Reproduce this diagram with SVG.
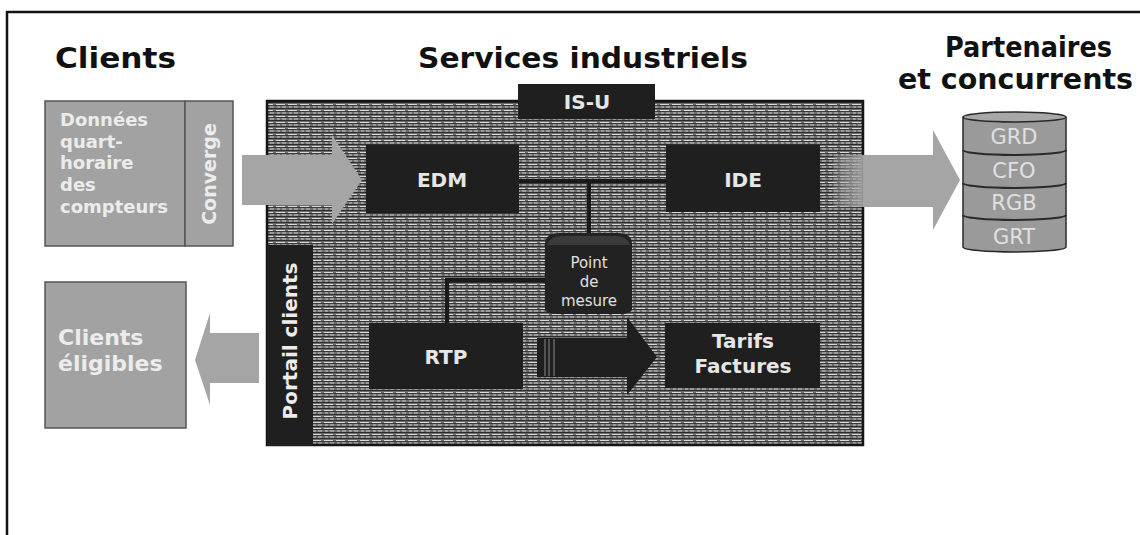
<svg xmlns="http://www.w3.org/2000/svg" width="1140" height="535" viewBox="0 0 1140 535">
<style>
.title{font-family:"DejaVu Sans","Liberation Sans",sans-serif;font-weight:bold;font-size:29px;fill:#111}
.dark{fill:#1f1f1f}
.lbl{font-family:"DejaVu Sans","Liberation Sans",sans-serif;font-weight:bold;font-size:20px;fill:#e6e6e6;text-anchor:middle}
.gray{fill:#a2a2a2;stroke:#555;stroke-width:1.5}
.wt{font-family:"DejaVu Sans","Liberation Sans",sans-serif;font-weight:bold;fill:#ececec}
.reg{font-family:"DejaVu Sans","Liberation Sans",sans-serif;fill:#e0e0e0;text-anchor:middle}
.line{stroke:#1a1a1a;stroke-width:4;fill:none}
.arrowg{fill:#a5a5a5}
</style>
<defs>
<pattern id="tex" x="0" y="0" width="12" height="6" patternUnits="userSpaceOnUse">
<rect width="12" height="6" fill="#6c6c6c"/>
<rect y="0" width="12" height="1" fill="#2c2c2c"/>
<rect y="2" width="9" height="1" fill="#d8d8d8"/>
<rect y="3" width="12" height="1" fill="#3a3a3a"/>
<rect x="1" y="4.5" width="3" height="1" fill="#c8c8c8"/>
<rect x="6" y="4.5" width="4" height="1" fill="#c8c8c8"/>
</pattern>
<linearGradient id="fade" x1="0" x2="1" y1="0" y2="0">
<stop offset="0" stop-color="#a5a5a5" stop-opacity="0.2"/>
<stop offset="1" stop-color="#a5a5a5" stop-opacity="0.9"/>
</linearGradient>
</defs>
<rect width="1140" height="535" fill="#fff"/>
<path d="M7,535 V12 H1140" fill="none" stroke="#111" stroke-width="2.5"/>

<text class="title" x="55" y="68" textLength="121" lengthAdjust="spacingAndGlyphs">Clients</text>
<text class="title" x="418" y="68" textLength="330" lengthAdjust="spacingAndGlyphs">Services industriels</text>
<text class="title" x="945" y="57" textLength="167" lengthAdjust="spacingAndGlyphs">Partenaires</text>
<text class="title" x="898" y="89" textLength="235" lengthAdjust="spacingAndGlyphs">et concurrents</text>

<g id="services">
<rect x="267" y="101" width="596" height="344" fill="url(#tex)" stroke="#151515" stroke-width="2.5"/>
</g>
<g id="isu">
<rect class="dark" x="518" y="84" width="137" height="35"/>
<text class="lbl" x="587" y="109" font-size="21">IS-U</text>
</g>
<g id="portail">
<rect class="dark" x="267" y="245" width="46" height="201"/>
<text class="wt" font-size="20" text-anchor="middle" transform="translate(297,341) rotate(-90)">Portail clients</text>
</g>

<g id="connectors">
<path class="line" d="M519,181 H666 M589,181 V234"/>
<path class="line" d="M545,280 H447 V323"/>
<polygon class="arrowg" points="242,155 332,155 332,135 362,180 332,224 332,205 242,205"/>
<polygon class="arrowg" points="259,333 210,333 210,313 195,360 210,405 210,383 259,383"/>
<polygon fill="url(#fade)" points="833,155 863,155 863,207 833,207"/>
<polygon class="arrowg" points="863,155 933,155 933,130 960,180 933,230 933,207 863,207"/>
<polygon fill="#1e1e1e" points="537,338 627,338 627,317 657,357 627,395 627,377 537,377"/>
<path d="M545,339 V376 M549,339 V376 M554,339 V376" stroke="#8a8a8a" stroke-width="1"/>
</g>

<g id="donnees">
<rect class="gray" x="45" y="101" width="140" height="145"/>
<text class="wt" font-size="18" x="60" y="126">Données</text>
<text class="wt" font-size="18" x="60" y="148">quart-</text>
<text class="wt" font-size="18" x="60" y="169">horaire</text>
<text class="wt" font-size="18" x="60" y="191">des</text>
<text class="wt" font-size="18" x="60" y="213">compteurs</text>
</g>
<g id="converge">
<rect class="gray" x="185" y="101" width="48" height="145"/>
<text class="wt" font-size="19" text-anchor="middle" transform="translate(216,174) rotate(-90)">Converge</text>
</g>
<g id="eligibles">
<rect class="gray" x="45" y="282" width="141" height="146"/>
<text class="wt" font-size="22" x="58" y="345">Clients</text>
<text class="wt" font-size="22" x="58" y="371">éligibles</text>
</g>

<g id="edm">
<rect class="dark" x="366" y="145" width="153" height="68"/>
<text class="lbl" x="442" y="187">EDM</text>
</g>
<g id="ide">
<rect class="dark" x="666" y="145" width="154" height="67"/>
<text class="lbl" x="743" y="187">IDE</text>
</g>
<g id="point">
<path d="M545,244 Q545,233 560,233 H617 Q632,233 632,244 V309 Q632,314 620,314 H557 Q545,314 545,309 Z" fill="#222"/>
<path d="M547,245 Q550,236 562,236 H615 Q628,236 630,245 Z" fill="#3a3a3a"/>
<text class="reg" font-size="15" x="589" y="268">Point</text>
<text class="reg" font-size="15" x="589" y="287">de</text>
<text class="reg" font-size="15" x="589" y="306">mesure</text>
</g>
<g id="rtp">
<rect class="dark" x="369" y="323" width="154" height="66"/>
<text class="lbl" x="446" y="364">RTP</text>
</g>
<g id="tarifs">
<rect class="dark" x="665" y="323" width="155" height="65"/>
<text class="lbl" x="743" y="348">Tarifs</text>
<text class="lbl" x="743" y="373">Factures</text>
</g>

<g id="partenaires">
<path d="M963,117 V247 A51.5,5 0 0 0 1066,247 V117" fill="#9a9a9a" stroke="#2a2a2a" stroke-width="1.5"/>
<ellipse cx="1014.5" cy="117" rx="51.5" ry="5" fill="#a8a8a8" stroke="#2a2a2a" stroke-width="1.5"/>
<path d="M963,150 A51.5,5 0 0 0 1066,150 M963,183 A51.5,5 0 0 0 1066,183 M963,215 A51.5,5 0 0 0 1066,215" fill="none" stroke="#2a2a2a" stroke-width="2"/>
<text class="reg" font-size="21" x="1014" y="144">GRD</text>
<text class="reg" font-size="21" x="1014" y="178">CFO</text>
<text class="reg" font-size="21" x="1014" y="210">RGB</text>
<text class="reg" font-size="21" x="1014" y="244">GRT</text>
</g>
</svg>
